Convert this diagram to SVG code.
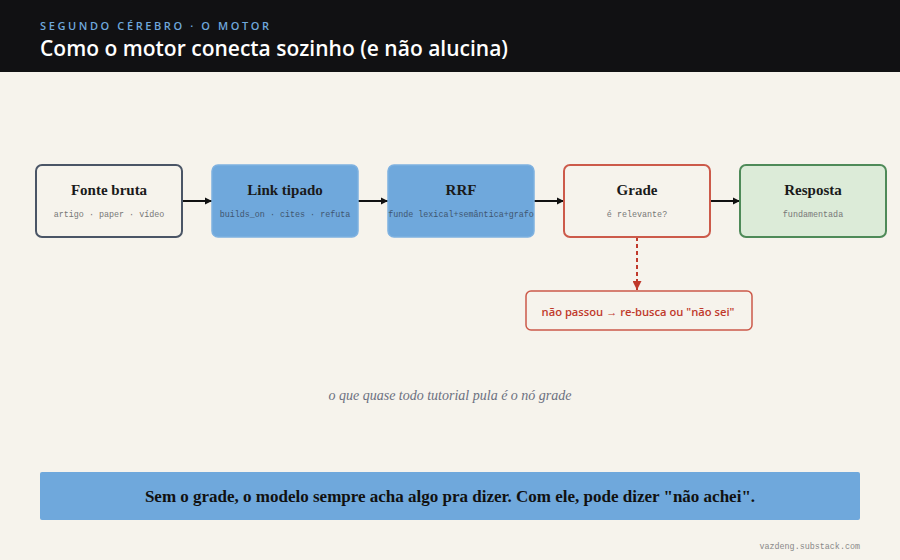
<svg xmlns="http://www.w3.org/2000/svg" width="900" height="560" viewBox="0 0 900 560">
<defs>
<marker id="ah" viewBox="0 0 10 10" refX="10" refY="5" markerWidth="7" markerHeight="8" orient="auto" markerUnits="userSpaceOnUse"><path d="M0,0 L10,5 L0,10 z" fill="#111"/></marker>
<marker id="ahr" viewBox="0 0 10 10" refX="10" refY="5" markerWidth="9" markerHeight="9" orient="auto" markerUnits="userSpaceOnUse"><path d="M0,0 L10,5 L0,10 z" fill="#c0392b"/></marker>
<style>
.t{font-family:"Liberation Serif",serif;font-weight:bold;font-size:15px;fill:#1a1a1a;text-anchor:middle}
.s{font-family:"Liberation Mono",monospace;font-size:8.4px;fill:#777;text-anchor:middle}
.s2{font-family:"Liberation Mono",monospace;font-size:8.4px;fill:#3f5670;text-anchor:middle}
.c{stroke:#111;stroke-width:2;fill:none}
</style>
</defs>
<rect width="900" height="560" fill="#f6f3ec"/>
<rect width="900" height="72" fill="#111113"/>
<text x="40" y="30" font-family="'Open Sans',sans-serif" font-size="11" font-weight="600" letter-spacing="2.6" fill="#6fa8dc">SEGUNDO CÉREBRO · O MOTOR</text>
<text x="40" y="56" font-family="'Open Sans',sans-serif" font-size="21" font-weight="600" fill="#ffffff">Como o motor conecta sozinho (e não alucina)</text>
<g id="connectors">
<line class="c" x1="182" y1="201" x2="212" y2="201" marker-end="url(#ah)"/>
<line class="c" x1="358" y1="201" x2="388" y2="201" marker-end="url(#ah)"/>
<line class="c" x1="534" y1="201" x2="564" y2="201" marker-end="url(#ah)"/>
<line class="c" x1="710" y1="201" x2="740" y2="201" marker-end="url(#ah)"/>
<line x1="637" y1="237" x2="637" y2="290" stroke="#c0392b" stroke-width="2" stroke-dasharray="4,3" marker-end="url(#ahr)"/>
</g>
<g id="fonte">
<rect x="36" y="165" width="146" height="72" rx="6" fill="#f6f3ec" stroke="#4a5566" stroke-width="2"/>
<text class="t" x="109" y="195">Fonte bruta</text>
<text class="s" x="109" y="217">artigo · paper · vídeo</text>
</g>
<g id="link">
<rect x="212" y="165" width="146" height="72" rx="6" fill="#6fa8dc" stroke="#7eb1e0" stroke-width="1.5"/>
<text class="t" x="285" y="195">Link tipado</text>
<text class="s2" x="285" y="217">builds_on · cites · refuta</text>
</g>
<g id="rrf">
<rect x="388" y="165" width="146" height="72" rx="6" fill="#6fa8dc" stroke="#7eb1e0" stroke-width="1.5"/>
<text class="t" x="461" y="195">RRF</text>
<text class="s2" x="461" y="217">funde lexical+semântica+grafo</text>
</g>
<g id="grade">
<rect x="564" y="165" width="146" height="72" rx="6" fill="#f6f3ec" stroke="#cc5a4a" stroke-width="2"/>
<text class="t" x="637" y="195">Grade</text>
<text class="s" x="637" y="217">é relevante?</text>
</g>
<g id="resposta">
<rect x="740" y="165" width="146" height="72" rx="6" fill="#dcebd8" stroke="#4e8a58" stroke-width="2"/>
<text class="t" x="813" y="195">Resposta</text>
<text class="s" x="813" y="217">fundamentada</text>
</g>
<g id="fallback">
<rect x="526" y="291" width="226" height="39" rx="5" fill="#f6f3ec" stroke="#cc5a4a" stroke-width="1.5"/>
<text x="638" y="316" text-anchor="middle" font-family="'Open Sans',sans-serif" font-size="11.2" font-weight="600" fill="#c0392b">não passou → re-busca ou "não sei"</text>
</g>
<text x="450" y="400" text-anchor="middle" font-family="'Liberation Serif',serif" font-style="italic" font-size="14" fill="#6b7080">o que quase todo tutorial pula é o nó grade</text>
<g id="footer">
<rect x="40" y="472" width="820" height="48" rx="2" fill="#6fa8dc"/>
<text x="450" y="502" text-anchor="middle" font-family="'Liberation Serif',serif" font-weight="bold" font-size="17" fill="#111">Sem o grade, o modelo sempre acha algo pra dizer. Com ele, pode dizer "não achei".</text>
</g>
<text x="860" y="549" text-anchor="end" font-family="'Liberation Mono',monospace" font-size="8.4" fill="#888">vazdeng.substack.com</text>
</svg>
